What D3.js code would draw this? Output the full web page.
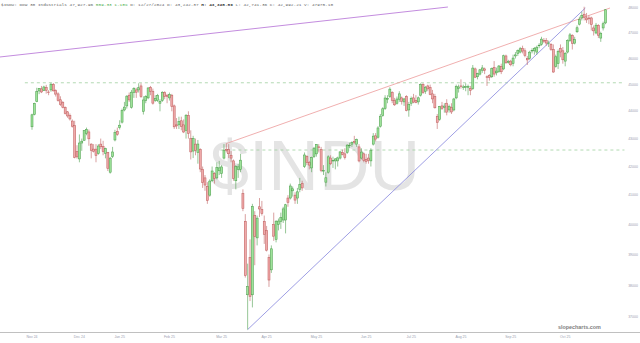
<!DOCTYPE html>
<html>
<head>
<meta charset="utf-8">
<script src="https://cdn.jsdelivr.net/npm/d3@7"></script>
<style>
  html, body { margin: 0; padding: 0; background: #fff; }
  svg { display: block; }
</style>
</head>
<body>
<svg id="chart" width="640" height="343"></svg>
<script>
// daily candles, [day, open, high, low, close]
const nov24 = [
  [21, 43430, 43910, 43320, 43870], [22, 43880, 44320, 43850, 44296], [25, 44360, 44880, 44340, 44736],
  [26, 44760, 44870, 44640, 44860], [27, 44840, 44950, 44680, 44722], [29, 44770, 44960, 44760, 44911]
];
const dec24 = [
  [2, 44900, 44990, 44660, 44782], [3, 44720, 44790, 44600, 44705], [4, 44800, 45070, 44730, 45014],
  [5, 45000, 45060, 44740, 44765], [6, 44780, 44820, 44550, 44642], [9, 44650, 44710, 44360, 44401],
  [10, 44430, 44560, 44200, 44248], [11, 44320, 44380, 44110, 44149], [12, 44140, 44180, 43880, 43914],
  [13, 43980, 44010, 43760, 43828], [16, 43850, 43920, 43660, 43717], [17, 43640, 43700, 43400, 43450],
  [18, 43470, 43650, 42290, 42326], [19, 42530, 42760, 42280, 42342], [20, 42270, 43150, 42150, 42840],
  [23, 42840, 43000, 42560, 42906], [24, 42940, 43300, 42920, 43297], [26, 43190, 43400, 43120, 43325],
  [27, 43242, 43329, 42741, 42992], [30, 42800, 42830, 42290, 42573], [31, 42620, 42800, 42500, 42544]
];
const jan25 = [
  [2, 42620, 42800, 42150, 42392], [3, 42460, 42800, 42420, 42732], [6, 42800, 43000, 42620, 42706],
  [7, 42720, 42920, 42400, 42528], [8, 42470, 42670, 42290, 42635], [10, 42500, 42520, 41840, 41938],
  [13, 41800, 42340, 41750, 42297], [14, 42350, 42700, 42300, 42518], [15, 42950, 43320, 42900, 43221],
  [16, 43250, 43400, 43100, 43153], [17, 43400, 43670, 43330, 43487], [21, 43600, 44100, 43550, 44025],
  [22, 44050, 44350, 44000, 44156], [23, 44200, 44600, 44100, 44565], [24, 44600, 44700, 44350, 44424],
  [27, 44150, 44800, 44100, 44714], [28, 44700, 44900, 44500, 44850], [29, 44800, 44880, 44500, 44713],
  [30, 44800, 45050, 44700, 44882], [31, 44950, 45050, 44500, 44544]
];
const feb25 = [
  [3, 44000, 44560, 43880, 44421], [4, 44400, 44600, 44300, 44556], [5, 44500, 44900, 44450, 44873],
  [6, 44900, 44950, 44600, 44747], [7, 44750, 44850, 44250, 44303], [10, 44400, 44600, 44350, 44470],
  [11, 44400, 44650, 44350, 44593], [12, 44300, 44450, 44000, 44368], [13, 44400, 44750, 44350, 44711],
  [14, 44700, 44750, 44450, 44546], [18, 44600, 44650, 44300, 44556], [19, 44500, 44700, 44400, 44628],
  [20, 44600, 44650, 44000, 44177], [21, 44200, 44250, 43350, 43428], [24, 43500, 43750, 43350, 43461],
  [25, 43500, 43800, 43350, 43621], [26, 43650, 43800, 43300, 43433], [27, 43500, 43700, 43200, 43240],
  [28, 43300, 43900, 43000, 43841]
];
const mar25 = [
  [3, 43850, 44000, 43000, 43191], [4, 43000, 43300, 42250, 42521], [5, 42550, 43100, 42300, 43006],
  [6, 42800, 43000, 42400, 42579], [7, 42500, 42950, 42100, 42802], [10, 42600, 42650, 41800, 41912],
  [11, 41900, 42000, 41250, 41433], [12, 41600, 41700, 41150, 41350], [13, 41300, 41450, 40700, 40813],
  [14, 41000, 41550, 40950, 41488], [17, 41500, 42000, 41450, 41842], [18, 41750, 41800, 41400, 41581],
  [19, 41600, 42150, 41550, 41965], [20, 41850, 42200, 41700, 41953], [21, 41750, 42050, 41600, 41985],
  [24, 42300, 42800, 42250, 42583], [25, 42600, 42820, 42500, 42588], [26, 42600, 42800, 42300, 42455],
  [27, 42400, 42550, 42150, 42300], [28, 42200, 42250, 41500, 41584], [31, 41500, 42050, 41200, 42002]
];
const apr25 = [
  [1, 41900, 42100, 41600, 41989], [2, 41900, 42450, 41800, 42225], [3, 41050, 41200, 40450, 40545],
  [4, 40100, 40350, 38250, 38315], [7, 37700, 38700, 36611, 37966], [8, 38900, 39500, 37500, 37645],
  [9, 37700, 40700, 37300, 40608], [10, 40300, 40450, 38650, 39594], [11, 39550, 40300, 39300, 40213],
  [14, 40600, 40900, 40250, 40525], [15, 40500, 40800, 40300, 40369], [16, 40100, 40300, 39350, 39669],
  [17, 39800, 39950, 39100, 39142], [21, 38900, 39000, 37950, 38170], [22, 38500, 39300, 38400, 39187],
  [23, 40000, 40400, 39450, 39607], [24, 39500, 40150, 39400, 40093], [25, 40000, 40200, 39800, 40114],
  [28, 40100, 40400, 39850, 40228], [29, 40150, 40600, 40050, 40527], [30, 40150, 40700, 39700, 40669]
];
const may25 = [
  [1, 40900, 41000, 40600, 40753], [2, 40900, 41400, 40850, 41317], [5, 41150, 41300, 40950, 41219],
  [6, 41000, 41100, 40700, 40829], [7, 40900, 41250, 40700, 41114], [8, 41200, 41600, 41100, 41368],
  [9, 41400, 41500, 41150, 41249], [12, 42000, 42500, 41950, 42410], [13, 42350, 42400, 42050, 42140],
  [14, 42150, 42200, 41900, 42051], [15, 41950, 42350, 41800, 42323], [16, 42350, 42700, 42300, 42655],
  [19, 42450, 42800, 42350, 42792], [20, 42700, 42800, 42500, 42677], [21, 42600, 42700, 41800, 41860],
  [22, 41850, 42050, 41700, 41859], [23, 41450, 41800, 41300, 41603], [27, 41800, 42400, 41750, 42343],
  [28, 42300, 42400, 42050, 42098], [29, 42200, 42350, 41950, 42216], [30, 42200, 42300, 41900, 42270]
];
const jun25 = [
  [2, 42200, 42350, 42000, 42306], [3, 42300, 42550, 42250, 42520], [4, 42500, 42600, 42400, 42428],
  [5, 42450, 42650, 42250, 42320], [6, 42500, 42800, 42450, 42763], [9, 42750, 42850, 42650, 42762],
  [10, 42800, 42900, 42700, 42867], [11, 42900, 43100, 42800, 42865], [12, 42800, 43000, 42700, 42968],
  [13, 42700, 42800, 42150, 42198], [16, 42300, 42650, 42250, 42515], [17, 42450, 42500, 42150, 42215],
  [18, 42250, 42450, 42100, 42172], [20, 42300, 42450, 42100, 42207], [23, 42200, 42650, 42000, 42582],
  [24, 42800, 43200, 42750, 43089], [25, 43100, 43200, 42900, 42982], [26, 43050, 43450, 43000, 43387],
  [27, 43450, 43900, 43400, 43819], [30, 43850, 44150, 43800, 44095]
];
const jul25 = [
  [1, 44100, 44600, 44050, 44495], [2, 44450, 44600, 44300, 44485], [3, 44550, 44900, 44500, 44829],
  [7, 44700, 44750, 44300, 44406], [8, 44400, 44500, 44200, 44241], [9, 44300, 44550, 44250, 44458],
  [10, 44450, 44750, 44350, 44651], [11, 44500, 44550, 44250, 44371], [14, 44350, 44500, 44200, 44460],
  [15, 44550, 44600, 44000, 44023], [16, 44050, 44350, 43800, 44255], [17, 44300, 44550, 44200, 44484],
  [18, 44500, 44650, 44300, 44342], [21, 44400, 44600, 44300, 44323], [22, 44350, 44550, 44250, 44502],
  [23, 44600, 45050, 44550, 45010], [24, 45000, 45050, 44650, 44694], [25, 44750, 44950, 44650, 44902],
  [28, 44950, 45000, 44750, 44838], [29, 44900, 45000, 44600, 44633], [30, 44650, 44800, 44300, 44461],
  [31, 44550, 44650, 44100, 44131]
];
const aug25 = [
  [1, 43800, 43900, 43350, 43589], [4, 43700, 44200, 43650, 44174], [5, 44200, 44350, 44050, 44112],
  [6, 44150, 44300, 43950, 44193], [7, 44300, 44450, 43850, 43969], [8, 44050, 44250, 43950, 44176],
  [11, 44150, 44300, 43900, 43975], [12, 44050, 44500, 44000, 44459], [13, 44500, 45000, 44450, 44922],
  [14, 44850, 45000, 44700, 44911], [15, 44950, 45200, 44850, 44946], [18, 44900, 45000, 44800, 44912],
  [19, 44900, 45050, 44750, 44922], [20, 44900, 45000, 44600, 44938], [21, 44850, 44950, 44600, 44786],
  [22, 44850, 45750, 44800, 45632], [25, 45600, 45650, 45250, 45282], [26, 45300, 45450, 45200, 45418],
  [27, 45400, 45600, 45350, 45565], [28, 45550, 45750, 45450, 45637], [29, 45600, 45650, 45400, 45545]
];
const sep25 = [
  [2, 45300, 45350, 44950, 45296], [3, 45350, 45400, 45150, 45271], [4, 45300, 45650, 45250, 45621],
  [5, 45650, 45900, 45300, 45401], [8, 45450, 45650, 45350, 45515], [9, 45500, 45750, 45450, 45711],
  [10, 45700, 45800, 45400, 45490], [11, 45600, 46150, 45550, 46108], [12, 46100, 46150, 45800, 45834],
  [15, 45850, 45950, 45800, 45883], [16, 45900, 45950, 45700, 45758], [17, 45800, 46150, 45700, 46018],
  [18, 46100, 46250, 46000, 46142], [19, 46200, 46350, 46100, 46315], [22, 46250, 46450, 46200, 46381],
  [23, 46400, 46500, 46200, 46292], [24, 46300, 46400, 46050, 46121], [25, 46000, 46100, 45750, 45947],
  [26, 46000, 46300, 45950, 46247], [29, 46300, 46400, 46200, 46316], [30, 46300, 46450, 46150, 46398]
];
const oct25 = [
  [1, 46250, 46500, 46150, 46441], [2, 46500, 46600, 46400, 46520], [3, 46550, 46850, 46500, 46758],
  [6, 46700, 46800, 46600, 46695], [7, 46700, 46800, 46500, 46603], [8, 46600, 46700, 46450, 46602],
  [9, 46550, 46600, 46300, 46358], [10, 46350, 46550, 45450, 45480], [13, 45700, 46150, 45650, 46068],
  [14, 45800, 46350, 45600, 46270], [15, 46400, 46550, 46050, 46253], [16, 46300, 46450, 45800, 45952],
  [17, 45900, 46250, 45700, 46191], [20, 46250, 46750, 46200, 46707], [21, 46700, 47000, 46650, 46925],
  [22, 46900, 46950, 46350, 46590], [23, 46600, 46850, 46550, 46735], [24, 47050, 47300, 47000, 47207],
  [27, 47350, 47650, 47300, 47545], [28, 47600, 47850, 47500, 47706], [29, 47750, 48050, 47500, 47632],
  [30, 47600, 47800, 47400, 47522], [31, 47600, 47700, 47350, 47563]
];
const nov25 = [
  [3, 47600, 47650, 47100, 47337], [4, 47200, 47300, 46900, 47085], [5, 47000, 47400, 46950, 47311],
  [6, 47300, 47350, 46800, 46912], [7, 46800, 47050, 46650, 46987], [10, 47200, 47450, 47100, 47368],
  [11, 47400, 47950, 47350, 47928]
];
const months = [
  ["2024-11", nov24], ["2024-12", dec24], ["2025-01", jan25], ["2025-02", feb25], ["2025-03", mar25],
  ["2025-04", apr25], ["2025-05", may25], ["2025-06", jun25], ["2025-07", jul25], ["2025-08", aug25],
  ["2025-09", sep25], ["2025-10", oct25], ["2025-11", nov25]
];

const priceTicks = [37000, 38000, 39000, 40000, 41000, 42000, 43000, 44000, 45000, 46000, 47000, 48000];
const dateTicks = [
  ["2024-11-21", "Nov 24"], ["2024-12-20", "Dec 24"], ["2025-01-17", "Jan 25"], ["2025-02-19", "Feb 25"],
  ["2025-03-21", "Mar 25"], ["2025-04-17", "Apr 25"], ["2025-05-19", "May 25"], ["2025-06-18", "Jun 25"],
  ["2025-07-17", "Jul 25"], ["2025-08-15", "Aug 25"], ["2025-09-16", "Sep 25"], ["2025-10-17", "Oct 25"]
];

// drawn lines, [bar index, price]
const purpleLine = [[-13.5, 46060], [175.5, 48040]];
const redLine = [[82, 42820], [243.9, 48000]];
const blueLine = [[91, 36611], [233.5, 48000]];
const levelHigh = [[-3, 45070], [250, 45070]];
const levelLow = [[79.5, 42588], [250, 42588]];

const header = [
  ["$INDU: Dow 30 Industrials 47,927.96 ", "#666", "normal"],
  ["559.33 1.18% ", "#4cae4c", "normal"],
  ["D: 12/27/2024 O: 43,242.37 ", "#666", "normal"],
  ["H: 43,328.89 ", "#333", "bold"],
  ["L: 42,741.36 C: 42,992.21 V: 47975.10", "#666", "normal"]
];

////////////////////////////////////////////////////////////////////////////////
const candles = [];
months.forEach(([ym, rows]) => {
  rows.forEach(([d, o, h, l, c]) => {
    candles.push({ date: ym + "-" + String(d).padStart(2, "0"), o, h, l, c });
  });
});
const indexOf = new Map(candles.map((d, i) => [d.date, i]));

const svg = d3.select("#chart");

const x = d3.scaleLinear().domain([0, candles.length - 1]).range([32, 605.5]);
const y = d3.scaleLog().domain([37000, 48000]).range([317, 8]);

// watermark
svg.append("text")
  .attr("x", 315)
  .attr("y", 190)
  .attr("text-anchor", "middle")
  .attr("font-family", "Liberation Sans, Arial, sans-serif")
  .attr("font-size", 70)
  .attr("fill", "#e4e4e4")
  .text("$INDU");

// bottom rule
svg.append("line")
  .attr("x1", 0).attr("x2", 640)
  .attr("y1", 332.5).attr("y2", 332.5)
  .attr("stroke", "#c0c0c0")
  .attr("stroke-width", 1);

// horizontal levels
const line = d3.line().x((d) => x(d[0])).y((d) => y(d[1]));
[levelHigh, levelLow].forEach((pts) => {
  svg.append("path")
    .attr("d", line(pts))
    .attr("fill", "none")
    .attr("stroke", "#9fd09f")
    .attr("stroke-width", 0.8)
    .attr("stroke-dasharray", "3,3");
});

// trend lines
[[purpleLine, "#b46fd6"], [redLine, "#ec9a9a"], [blueLine, "#8585dd"]].forEach(([pts, col]) => {
  svg.append("path")
    .attr("d", line(pts))
    .attr("fill", "none")
    .attr("stroke", col)
    .attr("stroke-width", 0.8);
});

// candles
const bodyW = 2;
const up = (d) => d.c >= d.o;
const bars = svg.append("g")
  .selectAll("g.candle")
  .data(candles)
  .join("g")
  .attr("class", "candle");

bars.append("line")
  .attr("x1", (d, i) => x(i)).attr("x2", (d, i) => x(i))
  .attr("y1", (d) => y(d.h)).attr("y2", (d) => y(d.l))
  .attr("stroke", (d) => (up(d) ? "#4fa04f" : "#c06060"))
  .attr("stroke-width", 0.6);

bars.append("rect")
  .attr("x", (d, i) => x(i) - bodyW / 2)
  .attr("width", bodyW)
  .attr("y", (d) => y(Math.max(d.o, d.c)))
  .attr("height", (d) => Math.max(0.6, Math.abs(y(d.o) - y(d.c))))
  .attr("fill", (d) => (up(d) ? "#9ee39a" : "#f0aaaa"))
  .attr("stroke", (d) => (up(d) ? "#4fa04f" : "#c06060"))
  .attr("stroke-width", 0.55);

// price axis on the right
svg.append("g")
  .selectAll("text")
  .data(priceTicks)
  .join("text")
  .attr("x", 633)
  .attr("y", (d) => y(d) + 1.2)
  .attr("text-anchor", "middle")
  .attr("font-family", "Liberation Sans, Arial, sans-serif")
  .attr("font-size", 3.5)
  .attr("fill", "#9aa0b0")
  .text((d) => d);

// date labels
svg.append("g")
  .selectAll("text")
  .data(dateTicks)
  .join("text")
  .attr("x", (d) => x(indexOf.get(d[0])))
  .attr("y", 338)
  .attr("text-anchor", "middle")
  .attr("font-family", "Liberation Sans, Arial, sans-serif")
  .attr("font-size", 3.5)
  .attr("fill", "#9aa0b0")
  .text((d) => d[1]);

// header line
const head = svg.append("text")
  .attr("x", 1)
  .attr("y", 5.5)
  .attr("font-family", "Liberation Mono, DejaVu Sans Mono, monospace")
  .attr("font-size", 4.4)
  .attr("xml:space", "preserve");
head.selectAll("tspan")
  .data(header)
  .join("tspan")
  .attr("fill", (d) => d[1])
  .attr("font-weight", (d) => d[2])
  .text((d) => d[0]);

// credit
svg.append("text")
  .attr("x", 558)
  .attr("y", 329)
  .attr("font-family", "Liberation Sans, Arial, sans-serif")
  .attr("font-size", 5.4)
  .attr("font-weight", "bold")
  .attr("fill", "#808080")
  .text("slopecharts.com");
</script>
</body>
</html>
